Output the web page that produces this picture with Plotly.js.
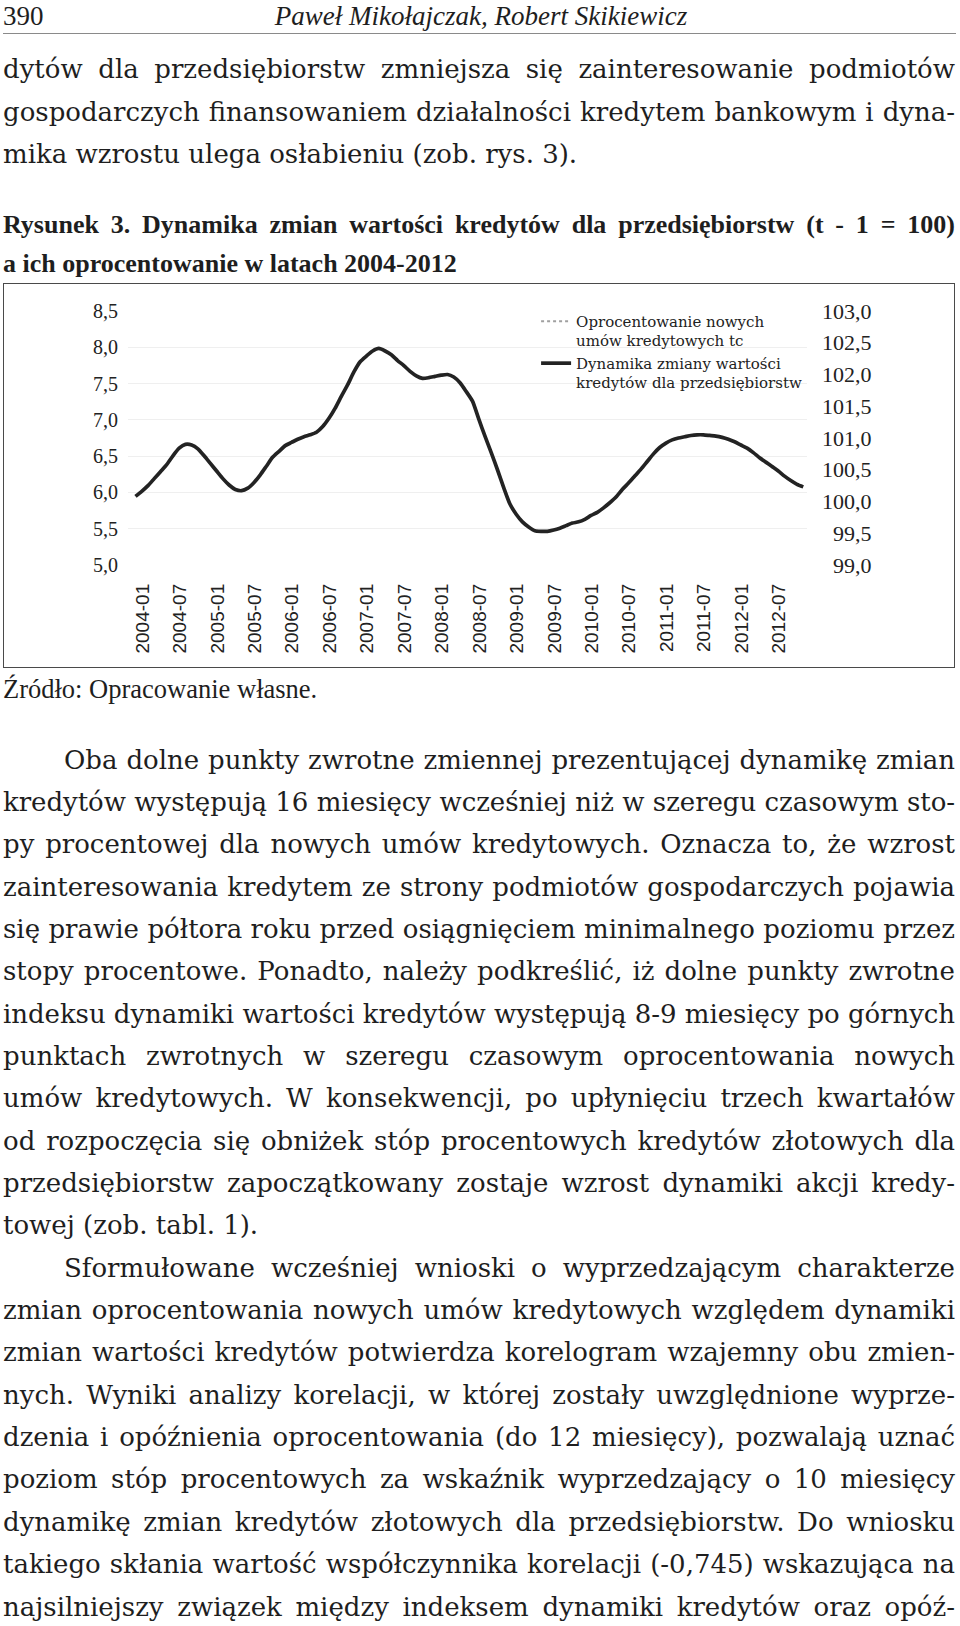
<!DOCTYPE html>
<html><head><meta charset="utf-8">
<script src="https://cdn.plot.ly/plotly-3.0.1.min.js"></script>
<style>
html,body{margin:0;padding:0;background:#fff;}
body{width:960px;height:1626px;position:relative;overflow:hidden;color:#1e1e1e;font-family:"Liberation Serif",serif;}
.ln{position:absolute;white-space:normal;overflow:visible;}
.j{text-align:justify;text-align-last:justify;}
#rule{position:absolute;left:3px;top:33px;width:953px;height:1px;background:#8a8a8a;}
#box{position:absolute;left:3px;top:283px;width:950px;height:383px;border:1.5px solid #4a4a4a;}
#chart{position:absolute;left:0;top:0;width:950px;height:383px;}
</style></head>
<body>
<div id="rule"></div>
<div id="box"><div id="chart"></div></div>
<script>
// ---------------- page text ----------------
const headerPage = '390';
const headerAuthors = 'Paweł Mikołajczak, Robert Skikiewicz';
const para1 = [
  'dytów dla przedsiębiorstw zmniejsza się zainteresowanie podmiotów',
  'gospodarczych finansowaniem działalności kredytem bankowym i dyna-',
  'mika wzrostu ulega osłabieniu (zob. rys. 3).'
];
const captionLines = [
  'Rysunek 3. Dynamika zmian wartości kredytów dla przedsiębiorstw (t - 1 = 100)',
  'a ich oprocentowanie w latach 2004-2012'
];
const sourceLine = 'Źródło: Opracowanie własne.';
const para2 = [
  'Oba dolne punkty zwrotne zmiennej prezentującej dynamikę zmian',
  'kredytów występują 16 miesięcy wcześniej niż w szeregu czasowym sto-',
  'py procentowej dla nowych umów kredytowych. Oznacza to, że wzrost',
  'zainteresowania kredytem ze strony podmiotów gospodarczych pojawia',
  'się prawie półtora roku przed osiągnięciem minimalnego poziomu przez',
  'stopy procentowe. Ponadto, należy podkreślić, iż dolne punkty zwrotne',
  'indeksu dynamiki wartości kredytów występują 8-9 miesięcy po górnych',
  'punktach zwrotnych w szeregu czasowym oprocentowania nowych',
  'umów kredytowych. W konsekwencji, po upłynięciu trzech kwartałów',
  'od rozpoczęcia się obniżek stóp procentowych kredytów złotowych dla',
  'przedsiębiorstw zapoczątkowany zostaje wzrost dynamiki akcji kredy-',
  'towej (zob. tabl. 1).'
];
const para3 = [
  'Sformułowane wcześniej wnioski o wyprzedzającym charakterze',
  'zmian oprocentowania nowych umów kredytowych względem dynamiki',
  'zmian wartości kredytów potwierdza korelogram wzajemny obu zmien-',
  'nych. Wyniki analizy korelacji, w której zostały uwzględnione wyprze-',
  'dzenia i opóźnienia oprocentowania (do 12 miesięcy), pozwalają uznać',
  'poziom stóp procentowych za wskaźnik wyprzedzający o 10 miesięcy',
  'dynamikę zmian kredytów złotowych dla przedsiębiorstw. Do wniosku',
  'takiego skłania wartość współczynnika korelacji (-0,745) wskazująca na',
  'najsilniejszy związek między indeksem dynamiki kredytów oraz opóź-'
];

function addLine(text, cy, opts) {
  const d = document.createElement('div');
  d.className = 'ln' + (opts.justify ? ' j' : '');
  d.textContent = text;
  const lh = opts.lh || 40;
  d.style.top = (cy - lh / 2) + 'px';
  d.style.height = lh + 'px';
  d.style.lineHeight = lh + 'px';
  d.style.fontSize = opts.size + 'px';
  if (opts.family) d.style.fontFamily = opts.family;
  if (opts.weight) d.style.fontWeight = opts.weight;
  if (opts.italic) d.style.fontStyle = 'italic';
  if (opts.center != null) {
    d.style.left = (opts.center - 400) + 'px';
    d.style.width = '800px';
    d.style.textAlign = 'center';
  } else {
    const left = 3 + (opts.indent || 0);
    d.style.left = left + 'px';
    d.style.width = (955 - left) + 'px';
  }
  document.body.appendChild(d);
  return d;
}

const BODY = 26, LH = 42.35, BODYFONT = '"DejaVu Serif", serif';
const lines = [];
addLine(headerPage, 16, {size: 27});
addLine(headerAuthors, 16, {size: 27, italic: true, center: 481});
para1.forEach((t, i) => lines.push(addLine(t, 69 + i * 42.5, {size: BODY, family: BODYFONT, justify: i < para1.length - 1})));
captionLines.forEach((t, i) => lines.push(addLine(t, 225 + i * 38.5, {size: 26, weight: 'bold', justify: i === 0})));
addLine(sourceLine, 689, {size: 26.5});
para2.forEach((t, i) => lines.push(addLine(t, 759.5 + i * LH, {size: BODY, family: BODYFONT, indent: i === 0 ? 61 : 0, justify: i < para2.length - 1})));
para3.forEach((t, i) => lines.push(addLine(t, 759.5 + (para2.length + i) * LH, {size: BODY, family: BODYFONT, indent: i === 0 ? 61 : 0, justify: true})));

function fitLines() {
  lines.forEach(d => {
    let ls = 0, guard = 0;
    const lh = parseFloat(d.style.height);
    while (d.scrollHeight > lh * 1.4 && guard < 80) { ls -= 0.05; d.style.letterSpacing = ls + 'px'; guard++; }
  });
}

// ---------------- chart data ----------------
const months = [];
for (let y = 2004; y <= 2012; y++) for (let m = 1; m <= 12; m++) months.push(y + '-' + String(m).padStart(2, '0'));

// Dynamika zmiany wartości kredytów dla przedsiębiorstw (t-1 = 100), monthly 2004-01 .. 2012-12
const dynamika = [
  100.08, 100.16, 100.25, 100.36, 100.47, 100.58, 100.72, 100.84, 100.90, 100.89, 100.83, 100.72,
  100.60, 100.48, 100.36, 100.26, 100.19, 100.17, 100.21, 100.30, 100.42, 100.56, 100.70, 100.79,
  100.88, 100.93, 100.98, 101.02, 101.05, 101.09, 101.18, 101.31, 101.47, 101.66, 101.84, 102.04,
  102.20, 102.29, 102.37, 102.41, 102.37, 102.31, 102.22, 102.14, 102.05, 101.98, 101.94, 101.95,
  101.97, 101.99, 102.00, 101.96, 101.87, 101.73, 101.58, 101.30, 101.03, 100.77, 100.50, 100.22,
  99.96, 99.80, 99.68, 99.60, 99.54, 99.53, 99.53, 99.55, 99.58, 99.62, 99.66, 99.68,
  99.72, 99.78, 99.83, 99.90, 99.98, 100.07, 100.19, 100.29, 100.40, 100.51, 100.63, 100.75,
  100.85, 100.92, 100.97, 101.00, 101.02, 101.04, 101.05, 101.05, 101.04, 101.03, 101.01, 100.98,
  100.94, 100.89, 100.84, 100.77, 100.69, 100.62, 100.55, 100.48, 100.40, 100.33, 100.27, 100.23
];
// Oprocentowanie nowych umów kredytowych – series not legible in the source (legend only)
const oprocentowanie = [null];

const xTickLabels = ['2004-01','2004-07','2005-01','2005-07','2006-01','2006-07','2007-01','2007-07','2008-01',
  '2008-07','2009-01','2009-07','2010-01','2010-07','2011-01','2011-07','2012-01','2012-07'];
const leftTicks = [5.0, 5.5, 6.0, 6.5, 7.0, 7.5, 8.0, 8.5];
const rightTicks = [99.0, 99.5, 100.0, 100.5, 101.0, 101.5, 102.0, 102.5, 103.0];
const rightTickText = ['\u200799,0','\u200799,5','100,0','100,5','101,0','101,5','102,0','102,5','103,0'];
const legendNames = ['Oprocentowanie nowych<br>umów kredytowych tc', 'Dynamika zmiany wartości<br>kredytów dla przedsiębiorstw'];

const serif = 'Liberation Serif, serif';
const traces = [
  {x: [null], y: oprocentowanie, name: legendNames[0], type: 'scatter', mode: 'lines',
   line: {color: '#a0a0a0', width: 2, dash: 'dot'}, yaxis: 'y', hoverinfo: 'skip'},
  {x: months, y: dynamika, name: legendNames[1], type: 'scatter', mode: 'lines',
   line: {color: '#232323', width: 3.7, shape: 'spline', smoothing: 0.6}, yaxis: 'y2'}
];
const layout = {
  width: 950, height: 383,
  margin: {l: 124, r: 147, t: 27, b: 102, pad: 0},
  paper_bgcolor: '#fff', plot_bgcolor: '#fff',
  separators: ', ',
  showlegend: true,
  legend: {x: 0.601, y: 1.024, xanchor: 'left', yanchor: 'top', valign: 'top',
    font: {family: 'DejaVu Serif, serif', size: 15, color: '#222'}, bgcolor: 'rgba(0,0,0,0)', tracegroupgap: 0},
  xaxis: {type: 'category', categoryorder: 'array', categoryarray: months, range: [-1.2, 107.6],
    tickmode: 'array', tickvals: xTickLabels, ticktext: xTickLabels, tickangle: -90,
    tickfont: {family: 'Liberation Sans, Arial, sans-serif', size: 19, color: '#222'},
    showgrid: false, zeroline: false, showline: false, ticks: '', ticklabelstandoff: 14, ticklabelshift: 7},
  yaxis: {range: [5, 8.5], tickmode: 'array', tickvals: leftTicks, tickformat: '.1f',
    showgrid: true, gridcolor: '#efefef', gridwidth: 1, zeroline: false, showline: false, ticks: '',
    tickfont: {family: serif, size: 20, color: '#222'}, ticklabelstandoff: 9},
  yaxis2: {overlaying: 'y', side: 'right', range: [99, 103], tickmode: 'array', tickvals: rightTicks, ticktext: rightTickText,
    showgrid: false, zeroline: false, showline: false, ticks: '',
    tickfont: {family: serif, size: 22, color: '#222'}, ticklabelstandoff: 14}
};
Plotly.newPlot('chart', traces, layout, {staticPlot: true, displayModeBar: false});
if (document.fonts && document.fonts.ready) document.fonts.ready.then(fitLines); else fitLines();
</script>
</body></html>
